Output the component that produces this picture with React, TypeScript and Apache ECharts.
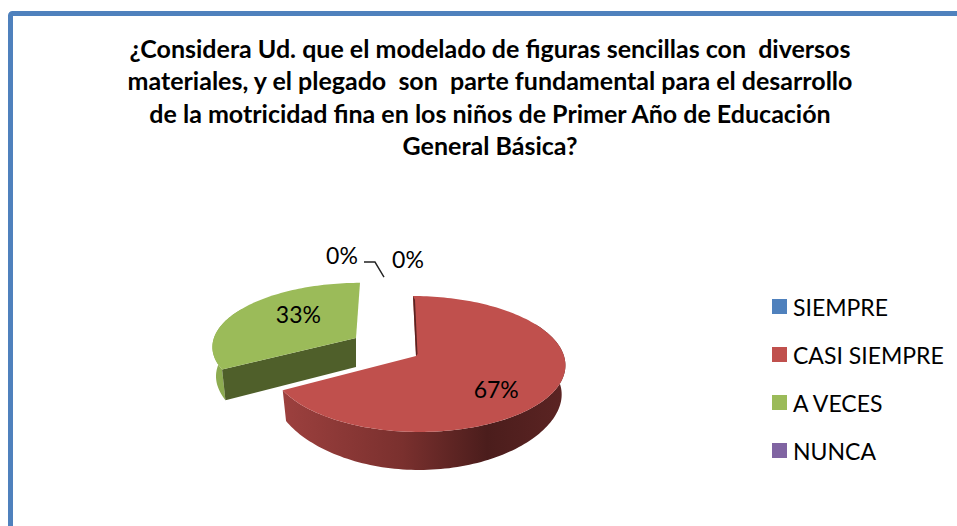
import React, { useEffect, useRef } from "react";
import * as echarts from "echarts";

const titleLines = [
  "¿Considera Ud. que el modelado de figuras sencillas con  diversos",
  "materiales, y el plegado  son  parte fundamental para el desarrollo",
  "de la motricidad fina en los niños de Primer Año de Educación",
  "General Básica?",
];
const categories = ["SIEMPRE", "CASI SIEMPRE", "A VECES", "NUNCA"];
const values = [0, 67, 33, 0];
const colors = ["#4f81bd", "#c0504d", "#9bbb59", "#8064a2"];

const FONT = "Lato";
const total = values.reduce((a, b) => a + b, 0);
const P = 0.1176;
const RX = 148;
const RY = 67;

type Geo = { cx: number; cy: number; kx: number; ky: number; shear: number; left: number };
const redGeo: Geo = { cx: 416, cy: 356, kx: 1, ky: 1, shear: 3, left: 0.98 };
const greenGeo: Geo = { cx: 356, cy: 338, kx: 0.96, ky: 0.92, shear: -4, left: 1 };
const geos: Geo[] = [redGeo, redGeo, greenGeo, greenGeo];
const labelOffsets = [
  [-5, -37],
  [0, 12],
  [12, -6],
  [-71, -41],
];

function rim(g: Geo, deg: number, f = 1): [number, number] {
  const t = (deg * Math.PI) / 180;
  const u = Math.sin(t) * f;
  const v = -Math.cos(t) * f;
  const s = 1 / (1 - P * v);
  return [
    g.cx + g.kx * RX * u * s * (u < 0 ? g.left : 1) + g.shear * v,
    g.cy + g.ky * RY * v * s,
  ];
}
function drop(g: Geo, p: [number, number]): [number, number] {
  const v = Math.max(0, (p[1] - g.cy) / (RY * g.ky * 1.13));
  return [g.cx + (p[0] - g.cx) * 0.975, p[1] + 29 + 9 * v * v];
}
function arc(g: Geo, a: number, b: number): [number, number][] {
  const out: [number, number][] = [];
  const n = Math.max(2, Math.ceil((b - a) / 1.5));
  for (let i = 0; i <= n; i++) out.push(rim(g, a + ((b - a) * i) / n));
  return out;
}

function renderItem(params: any, api: any) {
  const idx = params.seriesIndex;
  const val = api.value(0);
  const start = (values.slice(0, idx).reduce((a, b) => a + b, 0) / total) * 360;
  const end = start + (val / total) * 360;
  const g = geos[idx];
  const children: any[] = [];
  if (val > 0) {
    const edge = arc(g, start, end);
    const apex: [number, number] = [g.cx, g.cy];
    const wallEdge = arc(g, Math.max(start, 60), Math.min(end, 300));
    const wall = [...wallEdge, ...wallEdge.slice().reverse().map((p) => drop(g, p))];
    const isRed = idx === 1;
    const wallFill = new echarts.graphic.LinearGradient(
      isRed ? 284 : 210,
      0,
      isRed ? 566 : 360,
      0,
      isRed
        ? [
            { offset: 0, color: "#9c403e" },
            { offset: 0.42, color: "#7a302e" },
            { offset: 0.72, color: "#4b1d1c" },
            { offset: 1, color: "#5c2423" },
          ]
        : [
            { offset: 0, color: "#8fae52" },
            { offset: 1, color: "#6b8239" },
          ],
      true
    );
    children.push({ type: "polygon", shape: { points: wall }, style: { fill: wallFill } });
    if (!isRed) {
      const tip = rim(g, start);
      children.push({
        type: "polygon",
        shape: { points: [apex, tip, drop(g, tip), drop(g, apex)] },
        style: { fill: "#4f5f2a" },
      });
    }
    children.push({
      type: "polygon",
      shape: { points: [apex, ...edge] },
      style: { fill: colors[idx] },
    });
    if (isRed) {
      const top = rim(g, start);
      children.push({
        type: "polygon",
        shape: {
          points: [top, apex, [apex[0] + 1.5, apex[1] - 2], [top[0] + 2, top[1] + 4]],
        },
        style: { fill: "#5a2321" },
      });
    }
  }
  const base = val > 0 ? rim(g, (start + end) / 2, 0.6) : rim(redGeo, 0);
  const off = labelOffsets[idx];
  const lx = base[0] + off[0];
  const ly = base[1] + off[1];
  children.push({
    type: "text",
    style: {
      x: lx,
      y: ly,
      text: `${Math.round((val / total) * 100)}%`,
      fontFamily: FONT,
      fontSize: 23,
      fill: "#000",
      align: "center",
      verticalAlign: "middle",
    },
  });
  if (idx === 3) {
    const anchor = rim(redGeo, 0);
    children.push({
      type: "polyline",
      shape: {
        points: [
          [anchor[0] - 49, anchor[1] - 34],
          [anchor[0] - 38, anchor[1] - 34],
          [anchor[0] - 29, anchor[1] - 19],
        ],
      },
      style: { stroke: "#222", lineWidth: 1.4, fill: "none" },
    });
  }
  return { type: "group", children };
}

export default function App() {
  const ref = useRef<HTMLDivElement>(null);
  useEffect(() => {
    document.body.style.margin = "0";
    document.body.style.background = "#fff";
    const chart = echarts.init(ref.current!, undefined, { renderer: "svg" });
    chart.setOption({
      animation: false,
      backgroundColor: "#ffffff",
      color: colors,
      title: {
        text: titleLines.join("\n"),
        left: 490,
        top: 32,
        padding: 0,
        textAlign: "center",
        textStyle: {
          fontFamily: FONT,
          fontWeight: "bold",
          fontSize: 25,
          lineHeight: 32.3,
          color: "#000",
        },
      },
      legend: {
        orient: "vertical",
        left: 772,
        top: 295,
        padding: 0,
        data: categories,
        icon: "rect",
        itemWidth: 15,
        itemHeight: 15,
        itemGap: 25,
        selectedMode: false,
        textStyle: { fontFamily: FONT, fontSize: 23, color: "#000", padding: [0, 0, 0, 1] },
      },
      graphic: [
        {
          type: "rect",
          z: -1,
          shape: { x: 10.5, y: 13.5, width: 1100, height: 700, r: 2 },
          style: { fill: "none", stroke: "#4f81bd", lineWidth: 5 },
        },
      ],
      series: categories.map((name, i) => ({
        type: "custom",
        name,
        coordinateSystem: "none",
        itemStyle: { color: colors[i] },
        renderItem,
        data: [[values[i]]],
        silent: true,
      })),
    });
    return () => chart.dispose();
  }, []);
  return <div ref={ref} style={{ width: 957, height: 526 }} />;
}
